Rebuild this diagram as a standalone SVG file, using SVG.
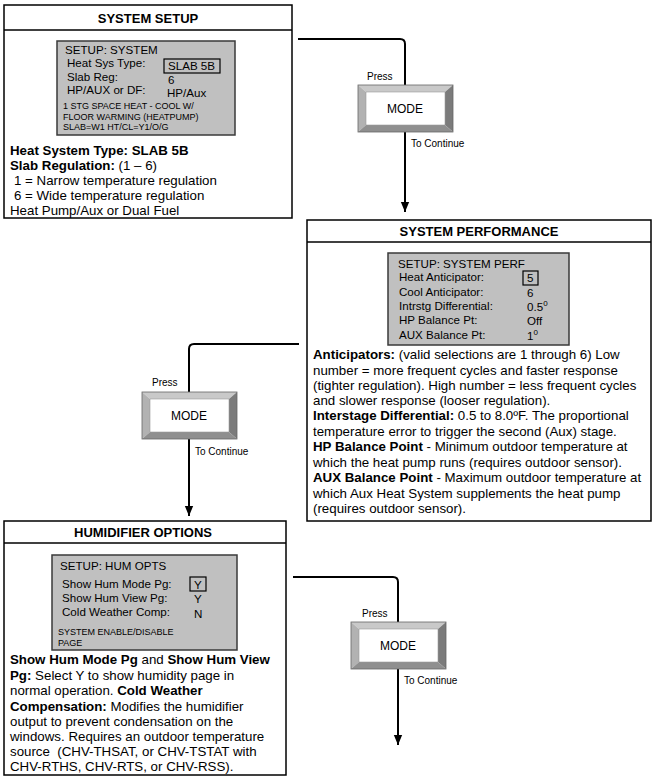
<svg xmlns="http://www.w3.org/2000/svg" xmlns:xlink="http://www.w3.org/1999/xlink" width="658" height="784" viewBox="0 0 658 784">
<style>
text{font-family:"Liberation Sans",Arial,sans-serif;fill:#000}
.box{fill:#fff;stroke:#000;stroke-width:1.5}
.hdr{font-size:13px;font-weight:bold;text-anchor:middle}
.lcd{fill:#c0c0c0;stroke:#3a3a3a;stroke-width:1.5}
.lt{font-size:11.6px}
.sm{font-size:9px}
.body{font-size:13.3px}
.b{font-weight:bold}
.sel{fill:none;stroke:#000;stroke-width:1.2}
.lbl{font-size:10px}
.mode{font-size:12px;text-anchor:middle}
.conn{fill:none;stroke:#000;stroke-width:2}
</style>
<defs>
<marker id="ah" markerWidth="10" markerHeight="12" refX="12" refY="5" orient="auto" markerUnits="userSpaceOnUse" viewBox="0 0 12 10">
<path d="M0,0 L12,5 L0,10 Z" fill="#000"/>
</marker>
<g id="btn">
<polygon points="0,0 95,0 87,7 8,7" fill="#c9c9c9"/>
<polygon points="0,0 8,7 8,40 0,47" fill="#b2b2b2"/>
<polygon points="95,0 95,47 87,40 87,7" fill="#7b7b7b"/>
<polygon points="0,47 8,40 87,40 95,47" fill="#8f8f8f"/>
<rect x="8" y="7" width="79" height="33" fill="#fff" stroke="#9a9a9a" stroke-width="0.6"/>
<rect x="0" y="0" width="95" height="47" fill="none" stroke="#666" stroke-width="0.8"/>
</g>
</defs>
<rect width="658" height="784" fill="#fff"/>

<g id="connectors">
<path class="conn" d="M298,39 H400 Q405,39 405,44 V212" marker-end="url(#ah)"/>
<path class="conn" d="M299,344 H194 Q189,344 189,349 V516" marker-end="url(#ah)"/>
<path class="conn" d="M293,577 H393 Q398,577 398,582 V745" marker-end="url(#ah)"/>
</g>

<g id="system-setup">
<rect class="box" x="4" y="5" width="288" height="213"/>
<line x1="4" y1="30" x2="292" y2="30" stroke="#000" stroke-width="1.5"/>
<text class="hdr" x="148" y="23">SYSTEM SETUP</text>
<rect class="lcd" x="57" y="41" width="178" height="94"/>
<text class="lt" x="65" y="54">SETUP: SYSTEM</text>
<text class="lt" x="67" y="67">Heat Sys Type:</text>
<rect class="sel" x="164" y="59" width="56" height="14"/>
<text class="lt" x="168" y="70">SLAB 5B</text>
<text class="lt" x="67" y="81">Slab Reg:</text>
<text class="lt" x="168" y="84">6</text>
<text class="lt" x="67" y="94">HP/AUX or DF:</text>
<text class="lt" x="167" y="97">HP/Aux</text>
<text class="sm" x="63" y="109">1 STG SPACE HEAT - COOL W/</text>
<text class="sm" x="63" y="120">FLOOR WARMING (HEATPUMP)</text>
<text class="sm" x="63" y="130">SLAB=W1 HT/CL=Y1/O/G</text>
<text class="body b" x="10" y="155">Heat System Type: SLAB 5B</text>
<text class="body" x="10" y="170"><tspan class="b">Slab Regulation:</tspan> (1 – 6)</text>
<text class="body" x="14" y="185">1 = Narrow temperature regulation</text>
<text class="body" x="14" y="200">6 = Wide temperature regulation</text>
<text class="body" x="10" y="215">Heat Pump/Aux or Dual Fuel</text>
</g>

<g id="mode-1">
<use xlink:href="#btn" x="358" y="85"/>
<text class="mode" x="405" y="113">MODE</text>
<text class="lbl" x="367" y="80">Press</text>
<text class="lbl" x="411" y="147">To Continue</text>
</g>

<g id="system-performance">
<rect class="box" x="307" y="220" width="344" height="301"/>
<line x1="307" y1="242" x2="651" y2="242" stroke="#000" stroke-width="1.5"/>
<text class="hdr" x="479" y="236">SYSTEM PERFORMANCE</text>
<rect class="lcd" x="388" y="253" width="181" height="92"/>
<text class="lt" x="398" y="268">SETUP: SYSTEM PERF</text>
<text class="lt" x="399" y="281">Heat Anticipator:</text>
<rect class="sel" x="523" y="271" width="15" height="14"/>
<text class="lt" x="527" y="282">5</text>
<text class="lt" x="399" y="296">Cool Anticipator:</text>
<text class="lt" x="527" y="297">6</text>
<text class="lt" x="399" y="310">Intrstg Differential:</text>
<text class="lt" x="527" y="311">0.5<tspan font-size="8" dy="-5">0</tspan></text>
<text class="lt" x="399" y="324">HP Balance Pt:</text>
<text class="lt" x="527" y="325">Off</text>
<text class="lt" x="399" y="339">AUX Balance Pt:</text>
<text class="lt" x="527" y="340">1<tspan font-size="8" dy="-5">0</tspan></text>
<text class="body" x="313" y="359"><tspan class="b">Anticipators:</tspan> (valid selections are 1 through 6) Low</text>
<text class="body" x="313" y="375">number = more frequent cycles and faster response</text>
<text class="body" x="313" y="390">(tighter regulation). High number = less frequent cycles</text>
<text class="body" x="313" y="405">and slower response (looser regulation).</text>
<text class="body" x="313" y="420"><tspan class="b">Interstage Differential:</tspan> 0.5 to 8.0ºF. The proportional</text>
<text class="body" x="313" y="436">temperature error to trigger the second (Aux) stage.</text>
<text class="body" x="313" y="451"><tspan class="b">HP Balance Point</tspan> - Minimum outdoor temperature at</text>
<text class="body" x="313" y="467">which the heat pump runs (requires outdoor sensor).</text>
<text class="body" x="313" y="482"><tspan class="b">AUX Balance Point</tspan> - Maximum outdoor temperature at</text>
<text class="body" x="313" y="498">which Aux Heat System supplements the heat pump</text>
<text class="body" x="313" y="513">(requires outdoor sensor).</text>
</g>

<g id="mode-2">
<use xlink:href="#btn" x="142" y="392"/>
<text class="mode" x="189" y="420">MODE</text>
<text class="lbl" x="152" y="386">Press</text>
<text class="lbl" x="195" y="455">To Continue</text>
</g>

<g id="humidifier-options">
<rect class="box" x="4" y="521" width="282" height="254"/>
<line x1="4" y1="543" x2="286" y2="543" stroke="#000" stroke-width="1.5"/>
<text class="hdr" x="143" y="537">HUMIDIFIER OPTIONS</text>
<rect class="lcd" x="52" y="555" width="185" height="95"/>
<text class="lt" x="60" y="570">SETUP: HUM OPTS</text>
<text class="lt" x="62" y="588">Show Hum Mode Pg:</text>
<rect class="sel" x="190" y="577" width="16" height="14"/>
<text class="lt" x="194" y="589">Y</text>
<text class="lt" x="62" y="602">Show Hum View Pg:</text>
<text class="lt" x="194" y="603">Y</text>
<text class="lt" x="62" y="616">Cold Weather Comp:</text>
<text class="lt" x="194" y="618">N</text>
<text class="sm" x="58" y="635">SYSTEM ENABLE/DISABLE</text>
<text class="sm" x="58" y="646">PAGE</text>
<text class="body" x="10" y="664"><tspan class="b">Show Hum Mode Pg</tspan> and <tspan class="b">Show Hum View</tspan></text>
<text class="body" x="10" y="680"><tspan class="b">Pg:</tspan> Select Y to show humidity page in</text>
<text class="body" x="10" y="695">normal operation. <tspan class="b">Cold Weather</tspan></text>
<text class="body" x="10" y="711"><tspan class="b">Compensation:</tspan> Modifies the humidifier</text>
<text class="body" x="10" y="726">output to prevent condensation on the</text>
<text class="body" x="10" y="741">windows. Requires an outdoor temperature</text>
<text class="body" x="10" y="756" xml:space="preserve">source  (CHV-THSAT, or CHV-TSTAT with</text>
<text class="body" x="10" y="771">CHV-RTHS, CHV-RTS, or CHV-RSS).</text>
</g>

<g id="mode-3">
<use xlink:href="#btn" x="351" y="622"/>
<text class="mode" x="398" y="650">MODE</text>
<text class="lbl" x="362" y="617">Press</text>
<text class="lbl" x="404" y="684">To Continue</text>
</g>
</svg>
